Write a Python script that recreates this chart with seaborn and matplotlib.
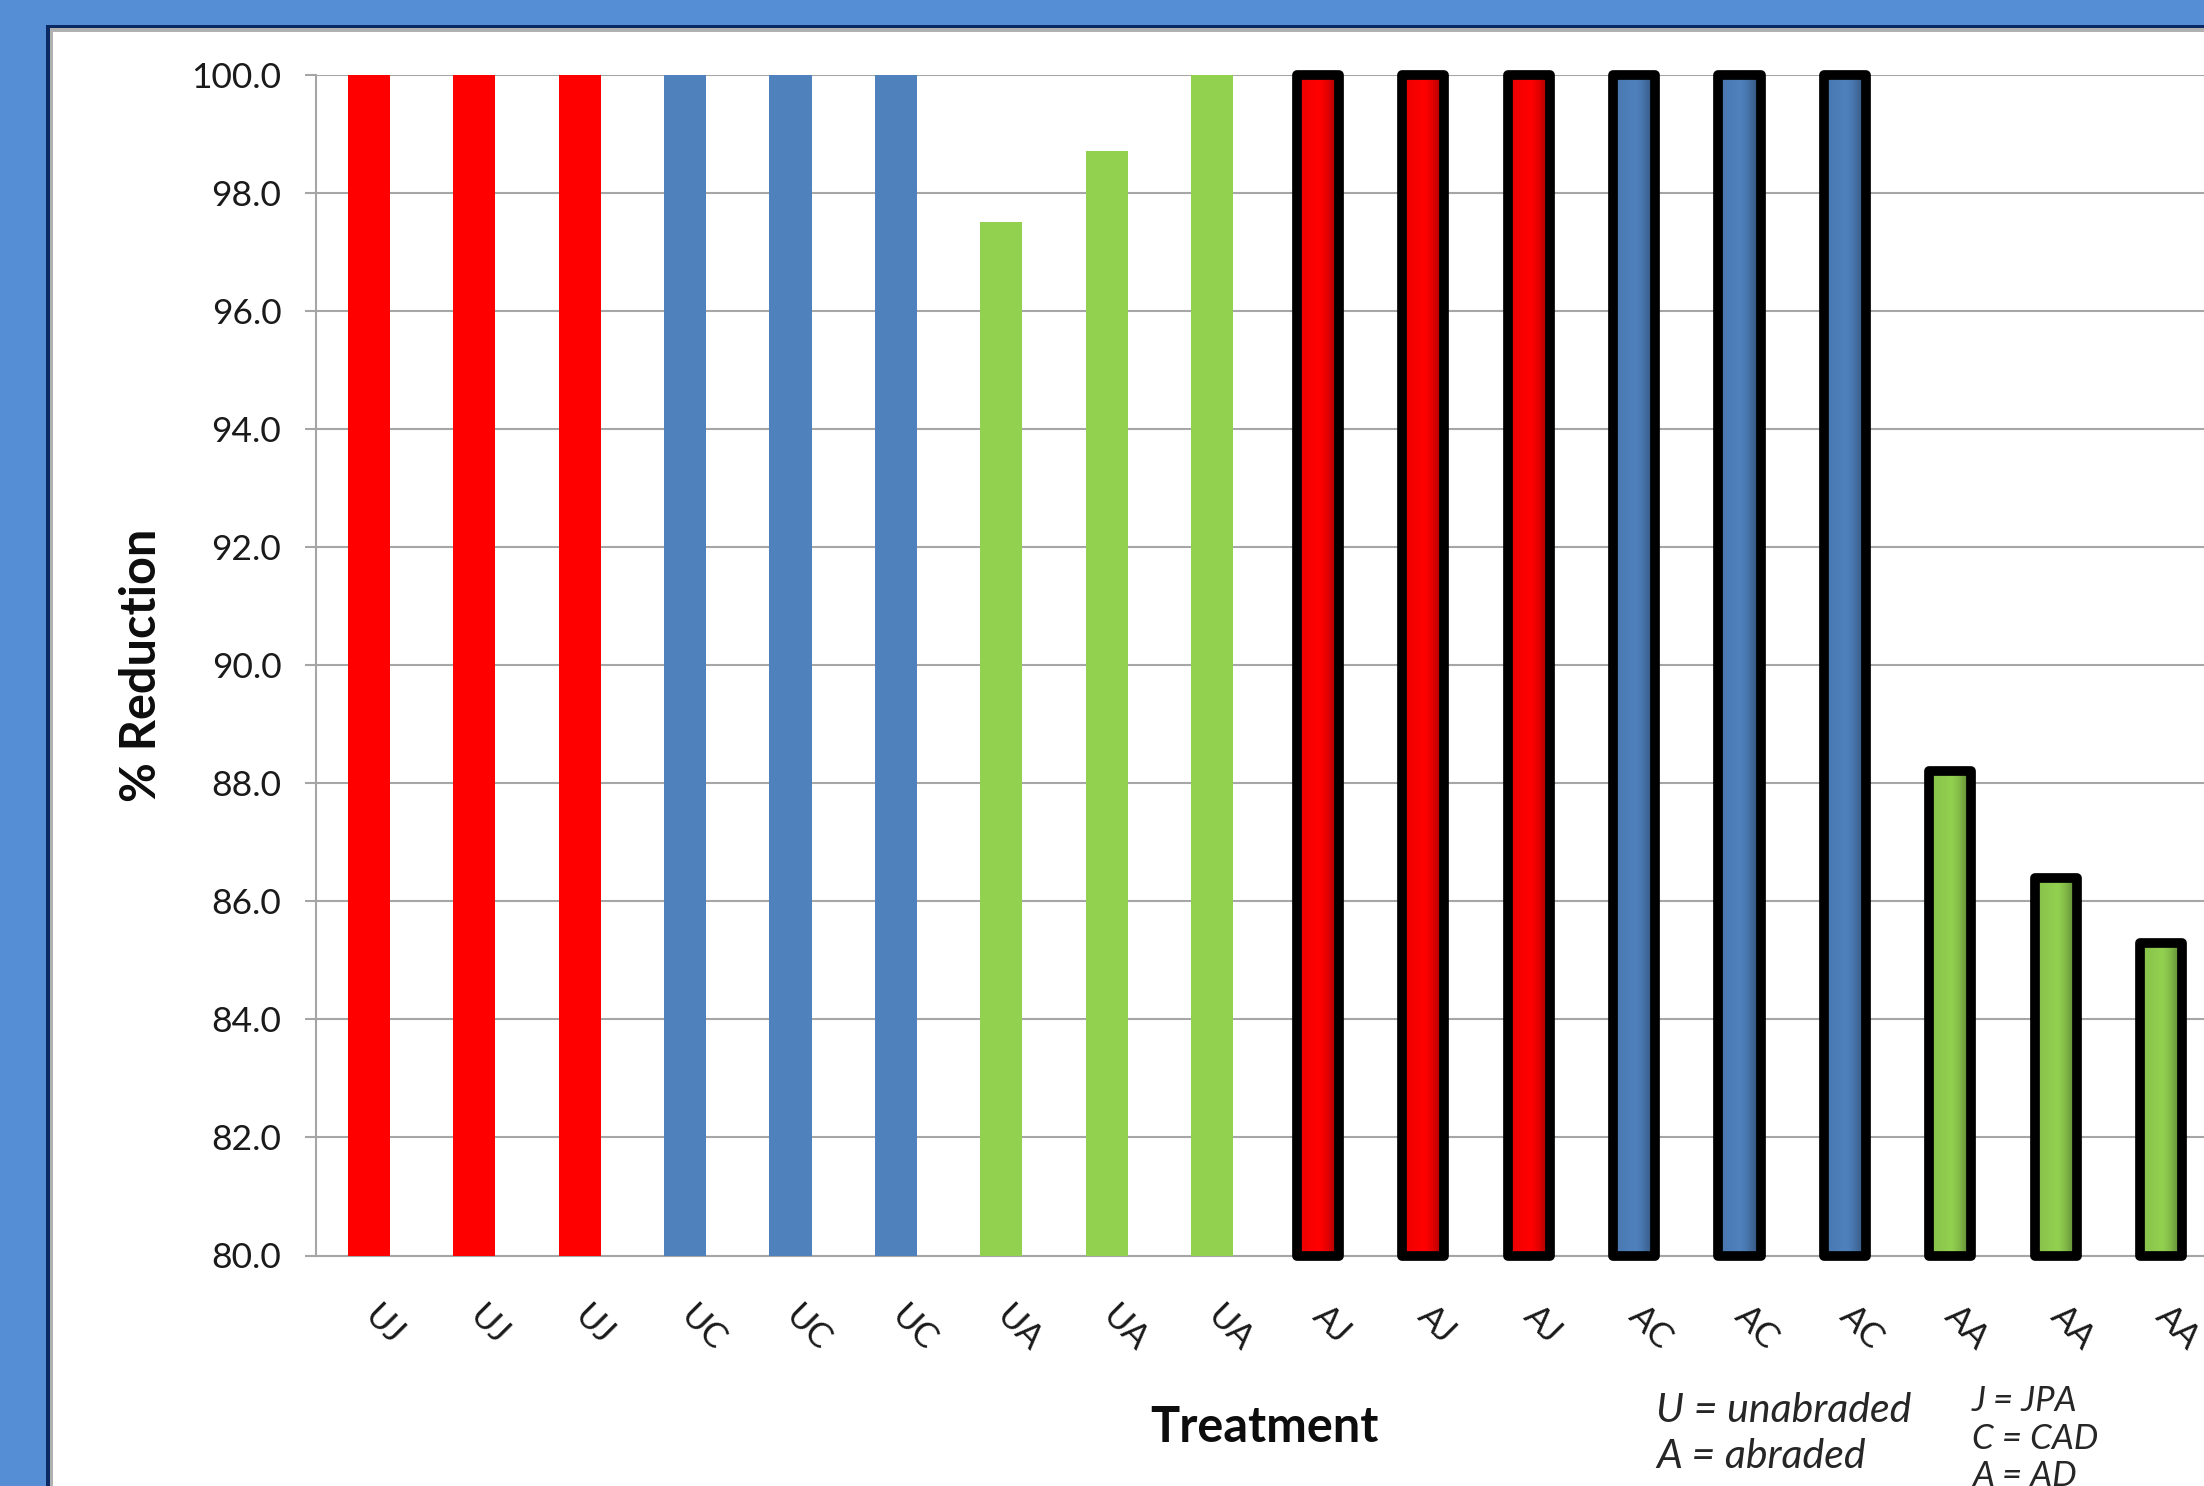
import numpy as np
import pandas as pd
import matplotlib
matplotlib.use("Agg")
import matplotlib.pyplot as plt
import matplotlib.colors as mcolors
from matplotlib.patches import Rectangle
from matplotlib.transforms import Bbox, TransformedBbox
import seaborn as sns

# Treatment codes, one bar each, in plotting order
treatments = ["UJ", "UJ", "UJ", "UC", "UC", "UC", "UA", "UA", "UA",
              "AJ", "AJ", "AJ", "AC", "AC", "AC", "AA", "AA", "AA"]
reduction = [100.0, 100.0, 100.0, 100.0, 100.0, 100.0, 97.5, 98.7, 100.0,
             100.0, 100.0, 100.0, 100.0, 100.0, 100.0, 88.2, 86.4, 85.3]
adhesive_colors = {"J": "#FF0000", "C": "#4F81BD", "A": "#92D050"}
y_ticks = [80.0, 82.0, 84.0, 86.0, 88.0, 90.0, 92.0, 94.0, 96.0, 98.0, 100.0]
key_surface = ["U = unabraded", "A = abraded"]
key_adhesive = ["J = JPA", "C = CAD", "A = AD"]

sns.set_theme(style="white")
plt.rcParams["font.family"] = ["Lato", "DejaVu Sans"]

W, H = 2204, 1486
fig = plt.figure(figsize=(W / 100, H / 100), dpi=100, facecolor="#558ED5")

# Chart panel frame: navy outline, thin grey rim, white interior
fig.patches.append(Rectangle((46 / W, 0), 1.1, 1 - 25 / H, transform=fig.transFigure,
                             facecolor="#0B2A63", edgecolor="none", zorder=-3))
fig.patches.append(Rectangle((50 / W, 0), 1.1, 1 - 28 / H, transform=fig.transFigure,
                             facecolor="#B0B0B0", edgecolor="none", zorder=-2))
fig.patches.append(Rectangle((53 / W, 0), 1.1, 1 - 32 / H, transform=fig.transFigure,
                             facecolor="white", edgecolor="none", zorder=-1))

left, right = 316, 2214
top, bottom = 74.5, 1255.5
ax = fig.add_axes([left / W, 1 - bottom / H, (right - left) / W, (bottom - top) / H])
ax.set_facecolor("none")

slots = list(range(len(treatments)))
df = pd.DataFrame({"slot": slots, "treatment": treatments, "reduction": reduction})
palette = [adhesive_colors[t[1]] for t in treatments]

sns.barplot(data=df, x="slot", y="reduction", hue="slot", palette=palette,
            width=0.4, legend=False, saturation=1, ax=ax, zorder=3)

ax.set_xlim(-0.5, len(treatments) - 0.5)
ax.set_ylim(80, 100)
y_floor = ax.get_ylim()[0]

# Abraded specimens: heavy black outline with a side-shaded fill
clip = TransformedBbox(Bbox([[-0.01, -0.012], [1.01, 1.012]]), ax.transAxes)
for patch, code, col in zip(ax.patches, treatments, palette):
    patch.set_edgecolor("none")
    patch.set_linewidth(0)
    if code[0] != "A":
        continue
    # start the outlined bar at the axis floor so its frame closes there
    top_val = patch.get_y() + patch.get_height()
    patch.set_y(y_floor)
    patch.set_height(top_val - y_floor)
    x0, y0 = patch.get_x(), patch.get_y()
    w, h = patch.get_width(), patch.get_height()
    base = np.array(mcolors.to_rgb(col))
    t = np.linspace(0, 1, 80)
    prof = np.where(t < 0.5, 1.0 - 0.08 * (0.5 - t) / 0.5,
                    1.0 - 0.45 * ((t - 0.5) / 0.5) ** 1.6)
    img = (base[None, :] * prof[:, None])[None, :, :]
    im = ax.imshow(img, extent=(x0, x0 + w, y0, y0 + h), aspect="auto",
                   interpolation="bilinear", zorder=2.9)
    im.set_clip_path(patch)
    im.set_clip_box(ax.bbox)
    patch.set_facecolor("none")
    patch.set_edgecolor("black")
    patch.set_linewidth(7)
    patch.set_joinstyle("round")
    patch.set_clip_box(clip)

ax.set_xlim(-0.5, len(treatments) - 0.5)
ax.set_ylim(80, 100)

# Gridlines and axes styling
grid_col = "#A6A6A6"
ax.set_yticks(y_ticks)
ax.set_yticklabels([f"{v:.1f}" for v in y_ticks])
ax.yaxis.grid(True, color=grid_col, linewidth=1.5, zorder=0)
ax.set_axisbelow(True)
for side in ["top", "right"]:
    ax.spines[side].set_visible(False)
for side in ["left", "bottom"]:
    ax.spines[side].set_color(grid_col)
    ax.spines[side].set_linewidth(1.5)

ax.set_xticks(slots)
ax.set_xticklabels(treatments)
ax.set_xticks(np.arange(-0.5, len(treatments), 1.0), minor=True)
ax.tick_params(axis="x", which="major", length=0, pad=40, labelsize=25, labelcolor="#1A1A1A")
ax.tick_params(axis="x", which="minor", length=9, width=1.5, color=grid_col, direction="out")
ax.tick_params(axis="y", which="major", length=8, width=1.5, color=grid_col, direction="out",
               left=True, pad=17, labelsize=25.5, labelcolor="#1A1A1A")
for lab in ax.get_xticklabels():
    lab.set_rotation(-45)
    lab.set_rotation_mode("anchor")
    lab.set_ha("left")
    lab.set_va("center")

ax.set_xlabel("")
ax.set_ylabel("")
fig.text(141 / W, 1 - 665 / H, "% Reduction", rotation=90, ha="center", va="center",
         fontsize=35, fontweight="bold", color="#0D0D0D")
fig.text(1264 / W, 1 - 1427 / H, "Treatment", ha="center", va="center",
         fontsize=35, fontweight="bold", color="#0D0D0D")

# Code key in the lower right
for txt, yy in zip(key_surface, [1411, 1456]):
    fig.text(1656 / W, 1 - yy / H, txt, ha="left", va="center", fontsize=29.5,
             style="italic", color="#262626")
for txt, yy in zip(key_adhesive, [1401, 1439, 1476]):
    fig.text(1972 / W, 1 - yy / H, txt, ha="left", va="center", fontsize=25,
             style="italic", color="#262626")

fig.savefig("out.png", dpi=100, facecolor=fig.get_facecolor())
